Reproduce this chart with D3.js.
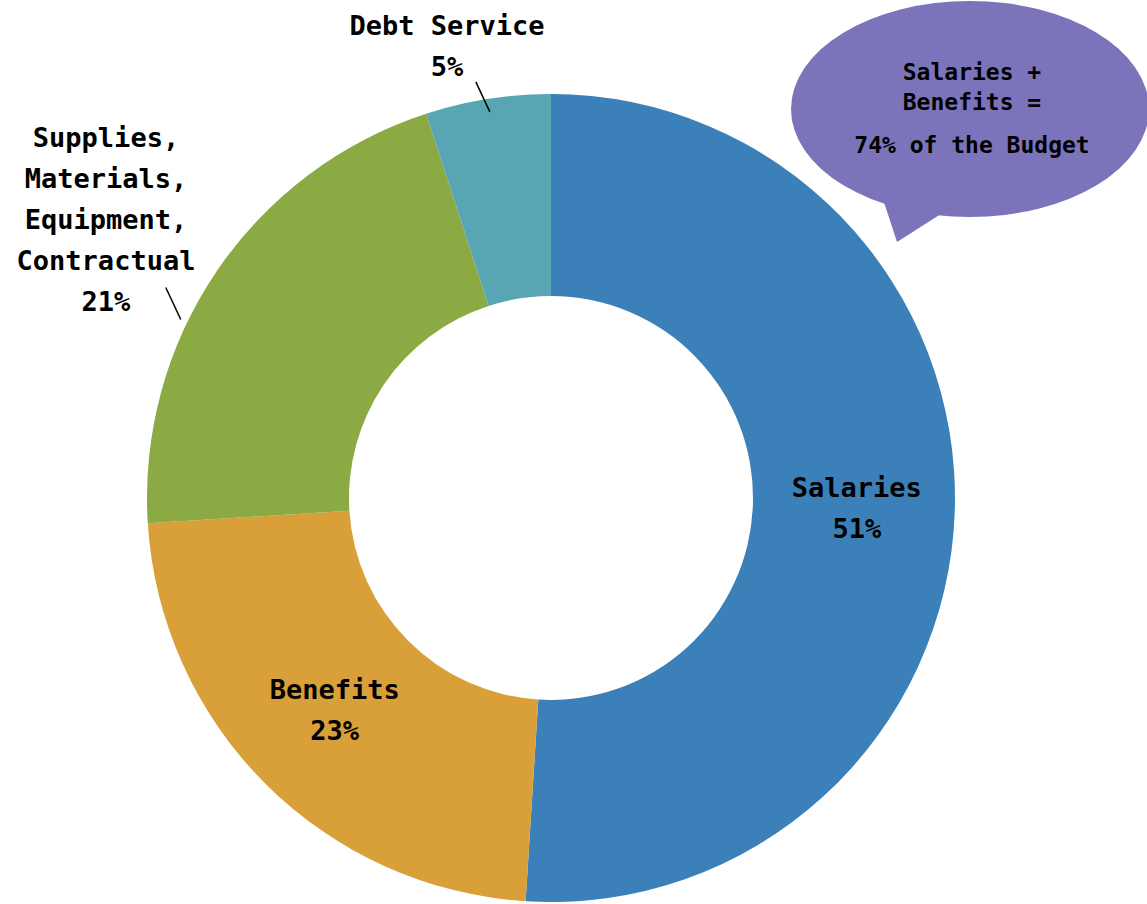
<!DOCTYPE html>
<html><head><meta charset="utf-8">
<script src="https://cdn.jsdelivr.net/npm/d3@7"></script>
<style>html,body{margin:0;padding:0;background:#fff;overflow:hidden}</style>
</head><body>
<svg id="chart" width="1147" height="904"></svg>
<script>
const categories = ["Salaries", "Benefits", "Supplies, Materials, Equipment, Contractual", "Debt Service"];
const labelLines = [["Salaries"], ["Benefits"], ["Supplies,", "Materials,", "Equipment,", "Contractual"], ["Debt Service"]];
const values = [51, 23, 21, 5];
const colors = ["#3B80B9", "#D99F38", "#8BAA43", "#58A5B4"];
const calloutLines = ["Salaries +", "Benefits =", "74% of the Budget"];

const W = 1147, H = 904;
const cx = 551, cy = 498, R = 404, r = 202;
const font = "'DejaVu Sans Mono', monospace";

const svg = d3.select("#chart");
const g = svg.append("g").attr("transform", `translate(${cx},${cy})`);

const pie = d3.pie().sort(null).value(d => d)(values);
const arc = d3.arc().innerRadius(r).outerRadius(R);

g.selectAll("path.slice").data(pie).join("path")
  .attr("class", "slice")
  .attr("d", arc)
  .attr("fill", (d, i) => colors[i]);

// label layout: inside (centroid) for big slices, outside with leader for small
const layout = [
  {mode: "in", dx: 3, dy: 0},
  {mode: "in", dx: -2, dy: -3},
  {mode: "out", frac: 0.388, lr: 411, vx: -15, vy: -32, tx: 106, ty0: 147},
  {mode: "out", frac: 0.5, lr: 391, vx: -14, vy: -30, tx: 447, ty0: 35}
];
const lineH = 41;

pie.forEach((d, i) => {
  const L = layout[i];
  const lines = labelLines[i].concat([values[i] + "%"]);
  if (L.mode === "in") {
    const [x, y] = arc.centroid(d);
    const n = lines.length;
    const t = g.append("text")
      .attr("font-family", font).attr("font-weight", "bold").attr("font-size", 27)
      .attr("text-anchor", "middle").attr("fill", "#000");
    lines.forEach((s, k) => {
      t.append("tspan").attr("x", x + L.dx)
        .attr("y", y + L.dy + (k - (n - 1) / 2) * lineH + 10)
        .text(s);
    });
  } else {
    const a = d.startAngle + L.frac * (d.endAngle - d.startAngle);
    const p0 = [L.lr * Math.sin(a), -L.lr * Math.cos(a)];
    g.append("line")
      .attr("x1", p0[0]).attr("y1", p0[1]).attr("x2", p0[0] + L.vx).attr("y2", p0[1] + L.vy)
      .attr("stroke", "#000").attr("stroke-width", 1.5);
    const t = svg.append("text")
      .attr("font-family", font).attr("font-weight", "bold").attr("font-size", 27)
      .attr("text-anchor", "middle").attr("fill", "#000");
    lines.forEach((s, k) => {
      t.append("tspan").attr("x", L.tx).attr("y", L.ty0 + k * lineH).text(s);
    });
  }
});

// callout bubble
const bx = 970, by = 109, brx = 179, bry = 108;
const tail = [[880, 190], [897, 242], [955, 205]];
svg.append("path")
  .attr("d", d3.line()(tail) + "Z")
  .attr("fill", "#7B74BA");
svg.append("ellipse")
  .attr("cx", bx).attr("cy", by).attr("rx", brx).attr("ry", bry)
  .attr("fill", "#7B74BA");
const ct = svg.append("text")
  .attr("font-family", font).attr("font-weight", "bold").attr("font-size", 23)
  .attr("text-anchor", "middle").attr("fill", "#000");
const cy0 = [80, 110, 153];
calloutLines.forEach((s, k) => {
  ct.append("tspan").attr("x", 972).attr("y", cy0[k]).text(s);
});
</script>
</body></html>
